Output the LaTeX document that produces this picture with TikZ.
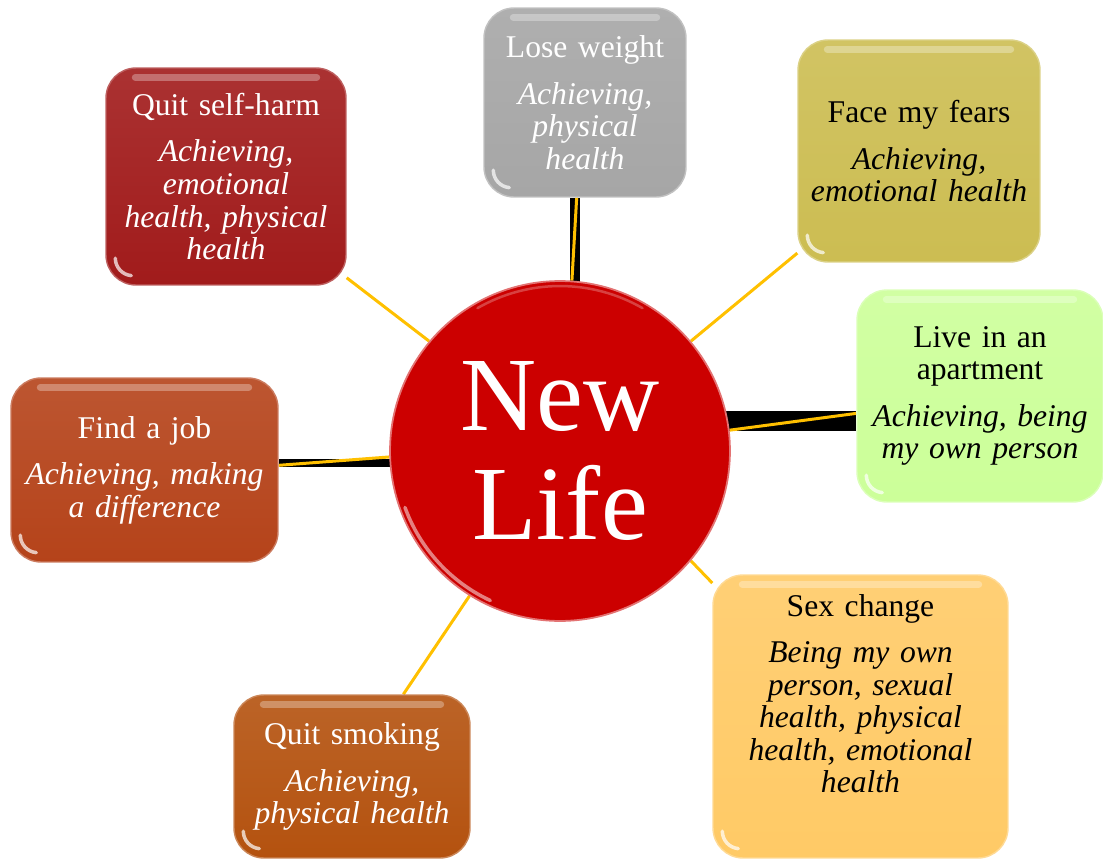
\documentclass[tikz,border=0pt]{standalone}
\usepackage{fontspec}
\setmainfont{Liberation Serif}
\usetikzlibrary{backgrounds}

\definecolor{hubred}{HTML}{CC0000}
\definecolor{gold}{HTML}{FFC000}
\definecolor{harmred}{HTML}{A11B1B}
\definecolor{losegrey}{HTML}{A6A6A6}
\definecolor{fearsgold}{HTML}{CCBD52}
\definecolor{aptgreen}{HTML}{CCFF99}
\definecolor{jobrust}{HTML}{B5431A}
\definecolor{smokebrown}{HTML}{B4520F}
\definecolor{sexamber}{HTML}{FFCA66}

% pushes a block of text up inside its box
\newcommand{\lift}{\par\vspace{0.92cm}}

\tikzset{
  goal/.style={rounded corners=0.6cm, inner sep=0pt, align=center,
    font=\fontsize{18}{18.5}\selectfont},
  bar/.style={draw=black, line cap=butt, shorten <=-0.1cm},
  gold link/.style={draw=gold, line width=0.06cm}
}

\begin{document}
\begin{tikzpicture}[x=0.02cm,y=-0.02cm]
  \useasboundingbox (0,0) rectangle (1103,859);

  % centre
  \node[circle, fill=hubred, draw=hubred!55!white, line width=1pt,
    minimum size=6.8cm, text=white, align=center,
    font=\fontsize{60}{62}\selectfont] (hub) at (560,451) {New\\Life};
  \draw[white, opacity=0.5, line width=0.07cm, line cap=round]
    ([shift={(200:3.3cm)}]hub.center) arc[start angle=200, end angle=245, radius=3.3cm];
  \draw[white, opacity=0.25, line width=0.05cm, line cap=round]
    ([shift={(60:3.3cm)}]hub.center) arc[start angle=60, end angle=120, radius=3.3cm];

  % goals: name/x/y/width/height/fill/text/title/reasons/tail
  \def \Goals{
    harm/226/176.5/4.8/4.34/harmred/white/{Quit self-harm}/{Achieving,\\emotional\\health, physical\\health}/{},
    lose/585/102.5/4.04/3.78/losegrey/white/{Lose weight}/{Achieving,\\physical\\health}/{},
    fears/919/151/4.84/4.44/fearsgold/black/{Face my fears}/{Achieving,\\emotional health}/{},
    apt/980/396/4.92/4.24/aptgreen/black/{Live in an\\apartment}/{Achieving, being\\my own person}/{},
    job/144.5/470/5.34/3.68/jobrust/white/{Find a job}/{Achieving, making\\a difference}/{},
    smoke/352/776.5/4.72/3.26/smokebrown/white/{Quit smoking}/{Achieving,\\physical health}/{},
    sex/860.5/716.5/5.9/5.66/sexamber/black/{Sex change}/{Being my own\\person, sexual\\health, physical\\health, emotional\\health}/{\lift}}
  \foreach \n / \x / \y / \w / \h / \c / \t / \title / \why / \tail in \Goals{
    \node[goal, top color=\c!90!white, bottom color=\c, draw=\c!70!white,
      line width=0.8pt, minimum width=\w cm, minimum height=\h cm,
      text width=\w cm, text=\t] (\n) at (\x,\y) {\title\\[8pt]\itshape \why\tail};
    \draw[white, opacity=0.3, line width=0.14cm, line cap=round]
      ([xshift=0.6cm, yshift=-0.2cm]\n.north west) -- ([xshift=-0.6cm, yshift=-0.2cm]\n.north east);
    \draw[white, opacity=0.7, line width=0.07cm, line cap=round]
      ([xshift=0.2cm, yshift=0.55cm]\n.south west) arc[start angle=180, end angle=265, radius=0.35cm];
  }

  % connectors
  \def \Links{
    lose/86/265,
    apt/7/188,
    job/182/2,
    harm/140/-40,
    fears/40/220,
    sex/-40/138,
    smoke/238/58}
  \begin{scope}[on background layer]
    \path[bar, line width=0.2cm] (hub.85) -- (lose.south -| hub.85);
    \path[bar, line width=0.4cm] (hub.10) -- (apt.west |- hub.10);
    \path[bar, line width=0.16cm] (hub.184) -- (job.east |- hub.184);
    \foreach \n / \a / \b in \Links{
      \path[gold link] (hub.\a) -- (\n.\b);
    }
  \end{scope}
\end{tikzpicture}
\end{document}
